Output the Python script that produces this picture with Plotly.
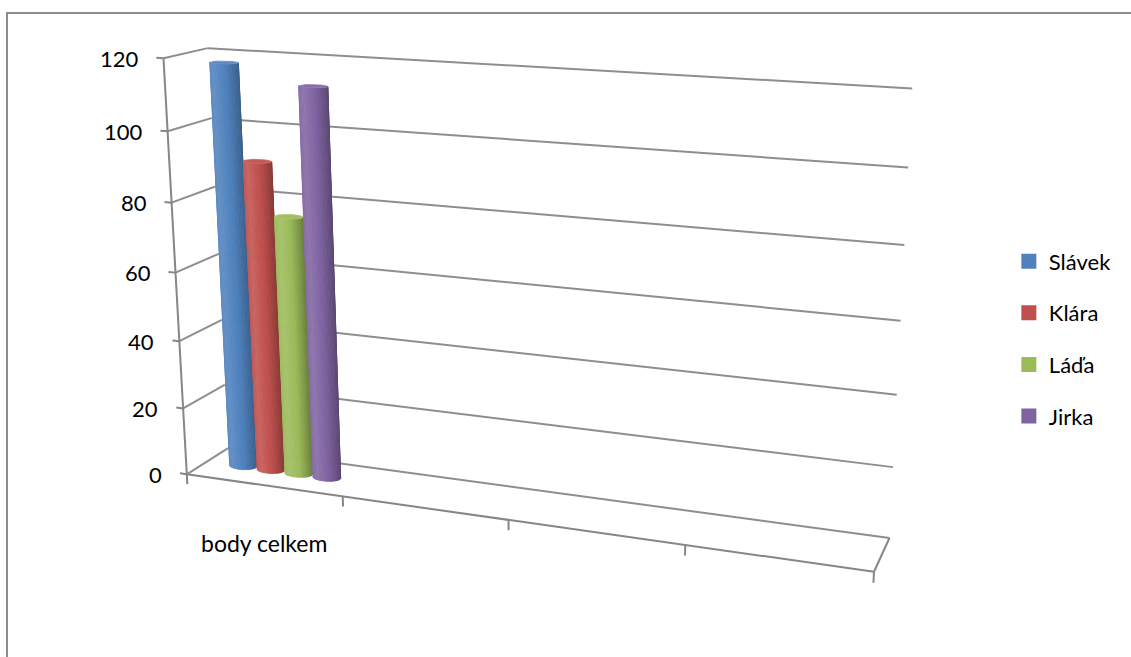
import numpy as np
import plotly.graph_objects as go

# ---------------- data ----------------
categories = ["body celkem", "", "", ""]
series_names = ["Slávek", "Klára", "Láďa", "Jirka"]
series_values = [118, 91, 76, 113]
series_colors = ["#4F81BD", "#C0504D", "#9BBB59", "#8064A2"]
value_ticks = [0, 20, 40, 60, 80, 100, 120]

W, H = 1131, 657
FONT = "Lato, 'Open Sans', sans-serif"
GRID = "#8e8e8e"
VSCALE = 30.0  # value units per world unit on the vertical axis

# ---------------- perspective frame ----------------
# box corners / tick positions: (category position, value, depth 0=front 1=back) -> page px
frame_world = [
    (0, 120, 0), (0, 100, 0), (0, 80, 0), (0, 20, 0), (0, 0, 0),
    (0, 120, 1), (0, 0, 1),
    (4, 120, 1), (4, 100, 1), (4, 60, 1), (4, 0, 1),
    (1, 0, 0), (2, 0, 0), (3, 0, 0), (4, 0, 0),
]
frame_page = [
    (163, 60), (168, 131), (172, 200), (183, 406), (187, 475),
    (207, 49), (228, 449),
    (913, 89), (908, 167), (901, 320), (889, 537),
    (342, 497), (510, 521), (685, 546), (873, 572),
]


def fit_camera(world, page):
    Xw = np.array(world, float)
    Xw[:, 1] /= VSCALE
    xp = np.array(page, float)
    mw = Xw.mean(0)
    sw = np.sqrt(3) / np.mean(np.linalg.norm(Xw - mw, axis=1))
    mp = xp.mean(0)
    sp = np.sqrt(2) / np.mean(np.linalg.norm(xp - mp, axis=1))
    Tw = np.diag([sw, sw, sw, 1.0])
    Tw[:3, 3] = -sw * mw
    Tp = np.diag([sp, sp, 1.0])
    Tp[:2, 2] = -sp * mp
    Xn = (Tw @ np.c_[Xw, np.ones(len(Xw))].T).T
    xn = (Tp @ np.c_[xp, np.ones(len(xp))].T).T
    A = []
    for (X, Y, Z, _), (u, v, _) in zip(Xn, xn):
        A.append([X, Y, Z, 1, 0, 0, 0, 0, -u * X, -u * Y, -u * Z, -u])
        A.append([0, 0, 0, 0, X, Y, Z, 1, -v * X, -v * Y, -v * Z, -v])
    _, _, Vt = np.linalg.svd(np.array(A))
    Pn = Vt[-1].reshape(3, 4)
    return np.linalg.inv(Tp) @ Pn @ Tw


P = fit_camera(frame_world, frame_page)
_, _, Vt = np.linalg.svd(P)
cam = Vt[-1]
cam = cam[:3] / cam[3]


def proj(x, val, z):
    x = np.atleast_1d(np.asarray(x, float))
    val = np.atleast_1d(np.asarray(val, float))
    z = np.atleast_1d(np.asarray(z, float))
    x, val, z = np.broadcast_arrays(x, val, z)
    h = P @ np.vstack([x, val / VSCALE, z, np.ones_like(x)])
    return h[0] / h[2], h[1] / h[2]


def segs(pairs):
    xs, ys = [], []
    for a, b in pairs:
        px, py = proj([a[0], b[0]], [a[1], b[1]], [a[2], b[2]])
        xs += list(px) + [None]
        ys += list(py) + [None]
    return xs, ys


def shade(hex_color, f):
    c = np.array([int(hex_color[i:i + 2], 16) for i in (1, 3, 5)], float)
    if f >= 1:
        c = c + (255 - c) * (f - 1)
    else:
        c = c * f
    c = np.clip(c, 0, 255).astype(int)
    return "rgb(%d,%d,%d)" % tuple(c)


fig = go.Figure()
n_cat = len(categories)
vmax = value_ticks[-1]

# ---------------- walls: gridlines ----------------
grid_pairs = []
for v in value_ticks:
    grid_pairs.append(((0, v, 0), (0, v, 1)))          # side wall
    grid_pairs.append(((0, v, 1), (n_cat, v, 1)))      # back wall
gx, gy = segs(grid_pairs)
fig.add_trace(go.Scatter(x=gx, y=gy, mode="lines", line=dict(color=GRID, width=2),
                         hoverinfo="skip", showlegend=False))

# ---------------- axes: edges and ticks ----------------
axis_pairs = [((0, 0, 0), (0, vmax, 0)),
              ((0, 0, 0), (n_cat, 0, 0)),
              ((n_cat, 0, 0), (n_cat, 0, 1))]
for v in value_ticks:
    axis_pairs.append(((0, v, 0), (-0.045, v, 0)))
for k in range(n_cat + 1):
    axis_pairs.append(((k, 0, 0), (k, -3, 0)))
ax_x, ax_y = segs(axis_pairs)
fig.add_trace(go.Scatter(x=ax_x, y=ax_y, mode="lines", line=dict(color="#868686", width=2),
                         hoverinfo="skip", showlegend=False))

# ---------------- cylinders ----------------
n_series = len(series_values)
gap_width = 1.5
bar_w = 1.0 / (n_series + gap_width)
rx = bar_w / 2.0 * 0.92
rz = 0.12
cz = 0.5
n_fac = 48
theta = np.linspace(0, 2 * np.pi, n_fac + 1)
profile_t = [0.0, 0.12, 0.32, 0.6, 0.85, 1.0]
profile_f = [0.88, 1.02, 1.12, 0.98, 0.75, 0.55]

for i, (val, col) in enumerate(zip(series_values, series_colors)):
    cx = 0.51 + (i - (n_series - 1) / 2.0) * bar_w
    xs_c = cx + rx * np.cos(theta)
    zs_c = cz + rz * np.sin(theta)
    bx, by = proj(xs_c, 0, zs_c)
    tx, ty = proj(xs_c, val, zs_c)
    xmin = min(bx.min(), tx.min())
    xmax = max(bx.max(), tx.max())
    for k in range(n_fac):
        tm = 0.5 * (theta[k] + theta[k + 1])
        p = np.array([cx + rx * np.cos(tm), 0.0, cz + rz * np.sin(tm)])
        nrm = np.array([np.cos(tm) / rx, 0.0, np.sin(tm) / rz])
        d = cam - p
        if nrm[0] * d[0] + nrm[2] * d[2] <= 0:
            continue
        qx = [bx[k], bx[k + 1], tx[k + 1], tx[k], bx[k]]
        qy = [by[k], by[k + 1], ty[k + 1], ty[k], by[k]]
        t = (np.mean(qx) - xmin) / (xmax - xmin)
        c = shade(col, float(np.interp(t, profile_t, profile_f)))
        fig.add_trace(go.Scatter(x=qx, y=qy, mode="lines", fill="toself", fillcolor=c,
                                 line=dict(color=c, width=0.8), hoverinfo="skip",
                                 showlegend=False))
    fig.add_trace(go.Scatter(x=list(tx), y=list(ty), mode="lines", fill="toself",
                             fillcolor=shade(col, 1.06), line=dict(color=shade(col, 1.15), width=0.8),
                             hoverinfo="skip", showlegend=False))

# ---------------- legend entries ----------------
for name, col in zip(series_names, series_colors):
    fig.add_trace(go.Scatter(x=[None], y=[None], mode="markers", name=name, legendgroup=name,
                             marker=dict(symbol="square", size=15, color=col)))

# ---------------- labels ----------------
annotations = []
for v in value_ticks:
    px, py = proj(0, v, 0)
    annotations.append(dict(x=px[0] - 23, y=py[0], xref="x", yref="y", text=str(v),
                            showarrow=False, xanchor="right", yanchor="middle",
                            font=dict(family=FONT, size=22, color="#000000")))
for k, cat in enumerate(categories):
    if not cat:
        continue
    px, py = proj(k + 0.5, 0, 0)
    annotations.append(dict(x=px[0], y=py[0] + 58, xref="x", yref="y", text=cat,
                            showarrow=False, xanchor="center", yanchor="middle",
                            font=dict(family=FONT, size=23, color="#000000")))

fig.update_layout(
    width=W, height=H,
    margin=dict(l=0, r=0, t=0, b=0),
    paper_bgcolor="white", plot_bgcolor="white",
    xaxis=dict(range=[0, W], visible=False, fixedrange=True),
    yaxis=dict(range=[H, 0], visible=False, fixedrange=True),
    showlegend=True,
    legend=dict(x=0.892, y=0.634, xanchor="left", yanchor="top",
                font=dict(family=FONT, size=22, color="#000000"),
                tracegroupgap=20, bgcolor="rgba(0,0,0,0)", itemclick=False),
    annotations=annotations,
    shapes=[dict(type="rect", xref="x", yref="y", x0=7, y0=13, x1=1145, y1=700,
                 line=dict(color="#8c8c8c", width=2), fillcolor="rgba(0,0,0,0)", layer="below")],
)

fig.write_html("out.html")
